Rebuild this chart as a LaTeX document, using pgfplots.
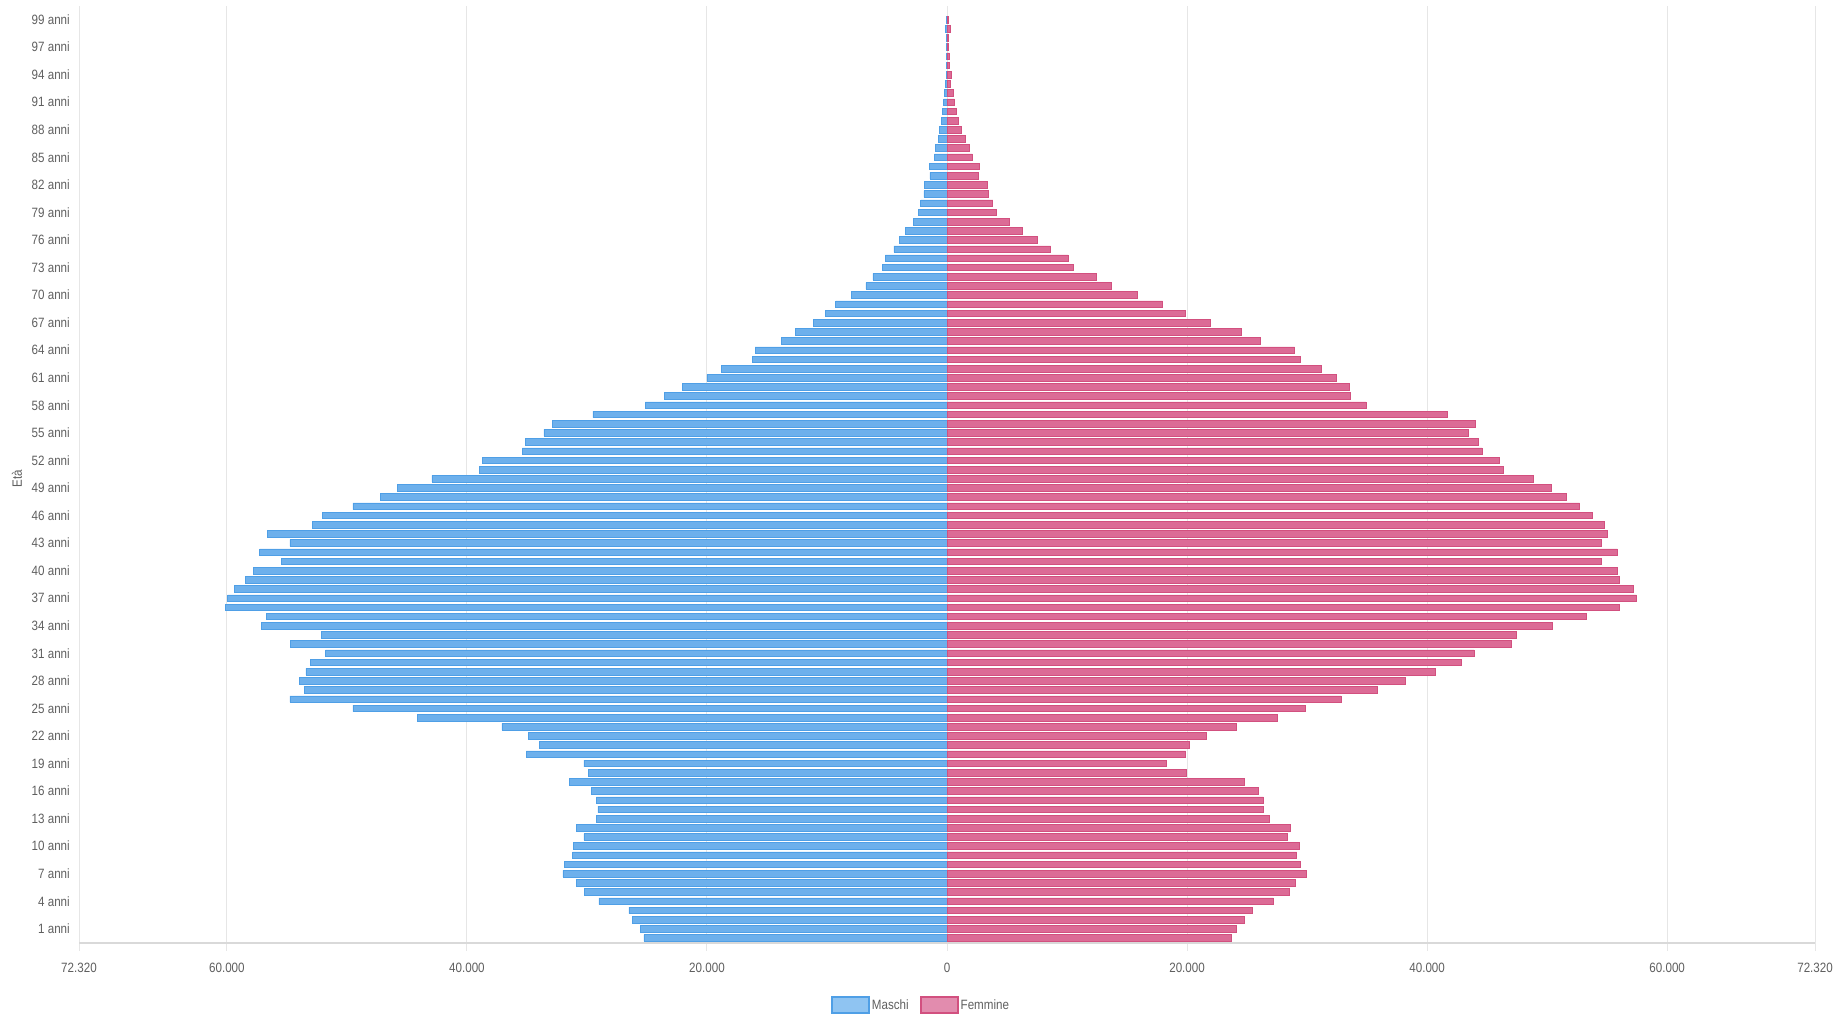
\documentclass[border=0pt]{standalone}
\usepackage{fontspec}
\setmainfont{Liberation Sans}[FakeStretch=0.86]
\usepackage{pgfplots}
\pgfplotsset{compat=1.18}
\usepackage{pgfplotstable}
\definecolor{mblue}{HTML}{6DB0EC}
\definecolor{mbluedark}{HTML}{4F9FE6}
\definecolor{mbluelight}{HTML}{8FC4F2}
\definecolor{fpink}{HTML}{DC6B96}
\definecolor{fpinkdark}{HTML}{D2507F}
\definecolor{fpinklight}{HTML}{E28CAE}
\definecolor{gridc}{HTML}{E6E6E6}
\definecolor{basec}{HTML}{D9D9D9}
\definecolor{txt}{HTML}{5F5F5F}

\pgfplotstableread{
idx M F
0 -25250 23700
1 -25540 24070
2 -26220 24740
3 -26500 25410
4 -29000 27180
5 -30200 28510
6 -30850 29000
7 -32010 29960
8 -31900 29420
9 -31200 29130
10 -31140 29340
11 -30260 28380
12 -30850 28590
13 -29210 26890
14 -29090 26350
15 -29210 26350
16 -29620 25930
17 -31490 24770
18 -29850 19960
19 -30260 18300
20 -35040 19880
21 -33990 20170
22 -34870 21620
23 -37080 24110
24 -44140 27550
25 -49500 29870
26 -54750 32820
27 -53530 35850
28 -53990 38170
29 -53410 40660
30 -53060 42860
31 -51780 43900
32 -54690 46970
33 -52130 47390
34 -57140 50410
35 -56680 53240
36 -60120 56020
37 -59940 57430
38 -59360 57180
39 -58480 56020
40 -57780 55850
41 -55450 54520
42 -57260 55850
43 -54750 54520
44 -56620 55020
45 -52890 54770
46 -52010 53780
47 -49500 52700
48 -47230 51620
49 -45770 50370
50 -42920 48880
51 -38950 46310
52 -38720 45980
53 -35390 44560
54 -35160 44230
55 -33590 43400
56 -32880 43980
57 -29500 41660
58 -25130 34900
59 -23560 33570
60 -22040 33480
61 -20000 32410
62 -18780 31200
63 -16210 29420
64 -15980 28960
65 -13820 26060
66 -12650 24520
67 -11140 21910
68 -10150 19830
69 -9270 17970
70 -7990 15890
71 -6760 13690
72 -6180 12410
73 -5360 10560
74 -5130 10080
75 -4430 8640
76 -3960 7530
77 -3440 6280
78 -2830 5220
79 -2360 4140
80 -2190 3810
81 -1920 3470
82 -1860 3390
83 -1420 2640
84 -1440 2720
85 -1060 2110
86 -940 1860
87 -750 1500
88 -610 1220
89 -500 970
90 -360 780
91 -280 610
92 -190 500
93 -110 310
94 -80 330
95 -60 190
96 -40 170
97 -30 110
98 -30 80
99 -110 280
100 -20 140
}\pop

\begin{document}
\begin{tikzpicture}[x=1pt,y=1pt]
\useasboundingbox (0,0) rectangle (1833,1017);
\begin{axis}[
  at={(79pt,74pt)}, anchor=south west,
  scale only axis, width=1736pt, height=929pt,
  xmin=-72320, xmax=72320, ymin=-0.55, ymax=100.6,
  xbar, bar width=0.72, bar shift=0pt,
  axis line style={draw=none},
  xmajorgrids, ymajorgrids=false,
  grid style={draw=gridc, line width=1pt},
  scaled x ticks=false,
  xtick={-72320,-60000,-40000,-20000,0,20000,40000,60000,72320},
  xticklabels={72.320,60.000,40.000,20.000,0,20.000,40.000,60.000,72.320},
  ytick={1,4,7,10,13,16,19,22,25,28,31,34,37,40,43,46,49,52,55,58,61,64,67,70,73,76,79,82,85,88,91,94,97,100},
  yticklabels={1 anni,4 anni,7 anni,10 anni,13 anni,16 anni,19 anni,22 anni,25 anni,28 anni,31 anni,34 anni,37 anni,40 anni,43 anni,46 anni,49 anni,52 anni,55 anni,58 anni,61 anni,64 anni,67 anni,70 anni,73 anni,76 anni,79 anni,82 anni,85 anni,88 anni,91 anni,94 anni,97 anni,99 anni},
  /pgf/number format/assume math mode=true,
  tick label style={font=\fontsize{13.5}{15}\selectfont, text=txt},
  ytick style={draw=none},
  xtick style={draw=gridc, line width=1pt},
  tick align=outside, major tick length=8pt,
  yticklabel style={inner sep=1pt},
  xticklabel style={yshift=-9pt},
  ylabel={Età},
  ylabel style={at={(axis description cs:-0.0357,0.5)}, anchor=center, font=\fontsize{13.5}{15}\selectfont, text=txt},
  legend style={at={(axis description cs:0.485,-0.0667)}, anchor=center, draw=none, fill=none,
    font=\fontsize{13.5}{15}\selectfont, text=txt, inner sep=0pt,
    /tikz/every even column/.append style={column sep=9pt}},
  legend columns=2,
]
\addplot[fill=mblue, draw=mbluedark, line width=0.6pt, bar shift=0pt,
  legend image code/.code={\draw[fill=mbluelight, draw=mbluedark, line width=2pt] (0pt,-8pt) rectangle (37pt,8pt);}]
  table[x=M, y=idx]{\pop};
\addlegendentry{Maschi}
\addplot[fill=fpink, draw=fpinkdark, line width=0.6pt, bar shift=0pt,
  legend image code/.code={\draw[fill=fpinklight, draw=fpinkdark, line width=2pt] (0pt,-8pt) rectangle (37pt,8pt);}]
  table[x=F, y=idx]{\pop};
\addlegendentry{Femmine}
\draw[draw=basec, line width=2.5pt] (rel axis cs:0,0) -- (rel axis cs:1,0);
\end{axis}
\end{tikzpicture}
\end{document}
